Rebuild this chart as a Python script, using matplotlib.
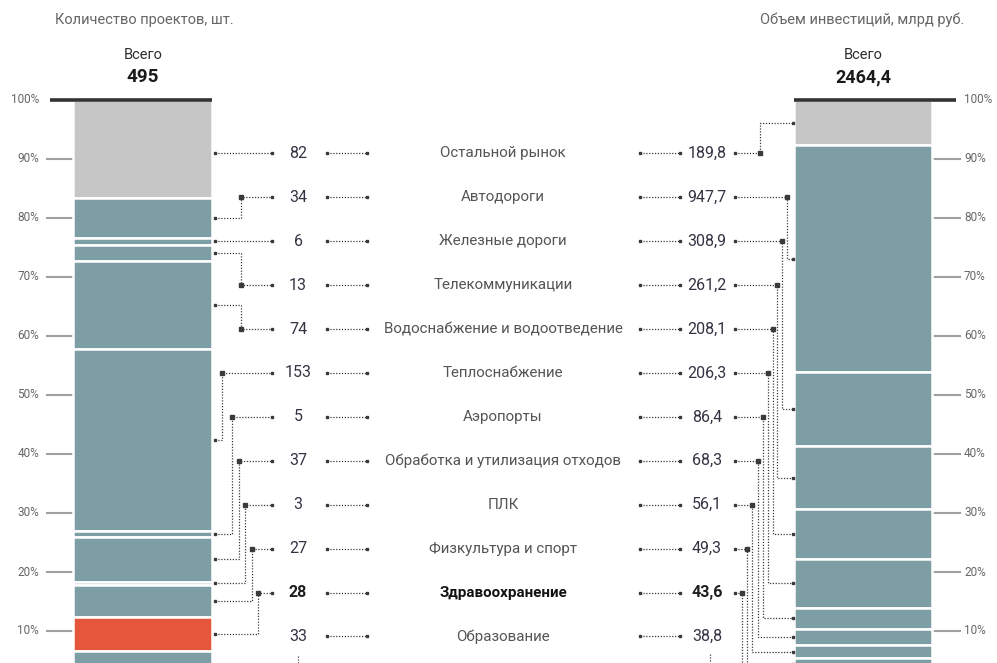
import matplotlib
matplotlib.use("Agg")
import matplotlib.pyplot as plt
import numpy as np

plt.rcParams['font.family'] = ['Roboto', 'DejaVu Sans']

# ---------------- data ----------------
categories = ["Остальной рынок", "Автодороги", "Железные дороги", "Телекоммуникации",
              "Водоснабжение и водоотведение", "Теплоснабжение", "Аэропорты",
              "Обработка и утилизация отходов", "ПЛК", "Физкультура и спорт",
              "Здравоохранение", "Образование"]
projects = [82, 34, 6, 13, 74, 153, 5, 37, 3, 27, 28, 33]
investments = [189.8, 947.7, 308.9, 261.2, 208.1, 206.3, 86.4, 68.3, 56.1, 49.3, 43.6, 38.8]
projects_label = ["82", "34", "6", "13", "74", "153", "5", "37", "3", "27", "28", "33"]
investments_label = ["189,8", "947,7", "308,9", "261,2", "208,1", "206,3", "86,4",
                     "68,3", "56,1", "49,3", "43,6", "38,8"]
total_projects = "495"
total_invest = "2464,4"
highlight = "Здравоохранение"
other = "Остальной рынок"
tick_values = [100, 90, 80, 70, 60, 50, 40, 30, 20, 10]
tick_labels = ["100%", "90%", "80%", "70%", "60%", "50%", "40%", "30%", "20%", "10%"]

# ---------------- layout ----------------
W, H = 997, 663
fig = plt.figure(figsize=(W / 100, H / 100), dpi=100)
ax = fig.add_axes([0, 0, 1, 1])
PX_PER_PCT = 5.9
TOP_PX = 100
ax.set_xlim(0, W)
ax.set_ylim(100 - (H - TOP_PX) / PX_PER_PCT, 100 + TOP_PX / PX_PER_PCT)
ax.axis("off")


def px2pct(py):
    return 100 - (py - TOP_PX) / PX_PER_PCT


TEAL = "#7e9ea6"
GREY = "#c6c6c6"
RED = "#e5573b"
DARK = "#2f2f2f"
LINE = "#3a3a3a"

L_CENTER, L_WIDTH = 142.5, 139
R_CENTER, R_WIDTH = 863, 138


def stacked(values, center, width):
    vals = np.array(values, dtype=float)
    pct = vals / vals.sum() * 100
    tops = 100 - np.concatenate([[0], np.cumsum(pct)[:-1]])
    bottoms = tops - pct
    colors = []
    for c in categories:
        if c == other:
            colors.append(GREY)
        elif c == highlight:
            colors.append(RED)
        else:
            colors.append(TEAL)
    ax.bar(center, pct, bottom=bottoms, width=width, color=colors,
           edgecolor="white", linewidth=1.8, zorder=2)
    return bottoms + pct / 2


l_mid = stacked(projects, L_CENTER, L_WIDTH)
r_mid = stacked(investments, R_CENTER, R_WIDTH)

# top lines
ax.plot([50, L_CENTER + L_WIDTH / 2], [100, 100], color="#333333", lw=2.6, zorder=3,
        solid_capstyle="butt")
ax.plot([R_CENTER - R_WIDTH / 2, 956], [100, 100], color="#333333", lw=2.6, zorder=3,
        solid_capstyle="butt")

# ticks
for v, lab in zip(tick_values, tick_labels):
    if v != 100:
        ax.plot([47, L_CENTER - L_WIDTH / 2], [v, v], color="#a0a0a0", lw=1.5, zorder=1)
        ax.plot([R_CENTER + R_WIDTH / 2 + 2, 960], [v, v], color="#a0a0a0", lw=1.5, zorder=1)
    ax.text(39, v, lab, ha="right", va="center", fontsize=8.5, color="#666666")
    ax.text(964, v, lab, ha="left", va="center", fontsize=8.5, color="#666666")

# headers
ax.text(144, px2pct(20), "Количество проектов, шт.", ha="center", va="center",
        fontsize=10.5, color="#666666")
ax.text(862, px2pct(20), "Объем инвестиций, млрд руб.", ha="center", va="center",
        fontsize=10.5, color="#666666")
ax.text(143, px2pct(55), "Всего", ha="center", va="center", fontsize=10.5, color=DARK)
ax.text(143, px2pct(77), total_projects, ha="center", va="center", fontsize=13.5,
        color="#1a1a1a", fontweight="bold")
ax.text(863, px2pct(55), "Всего", ha="center", va="center", fontsize=10.5, color=DARK)
ax.text(863, px2pct(77), total_invest, ha="center", va="center", fontsize=13,
        color="#1a1a1a", fontweight="bold")

DOT = dict(color=LINE, lw=0.9, linestyle=(0, (1, 1.3)), zorder=4)
MS = 1.8


def dline(xs, ys):
    ax.plot(xs, ys, **DOT)
    ax.plot([xs[0], xs[-1]], [ys[0], ys[-1]], ls="none", marker="s", ms=MS,
            color=LINE, zorder=5)


ROW0, ROW_STEP = 153.5, 43.9
rows_pct = [px2pct(ROW0 + i * ROW_STEP) for i in range(len(categories))]

L_EDGE = L_CENTER + L_WIDTH / 2 + 2.5
R_EDGE = R_CENTER - R_WIDTH / 2 - 1.5
L_NUM_X, CAT_X, R_NUM_X = 298, 503, 707

# elbow layout (x positions of vertical parts)
left_elbow = [None, 241, None, 241, 241, 222, 232, 239, 245, 252, 258, None]
right_elbow = [760, 787, 782, 777, 773, 768, 763, 758, 752, 747, 742, None]

for i, cat in enumerate(categories):
    yr = rows_pct[i]
    bold = cat == highlight
    fw = "bold" if bold else "normal"
    ax.text(L_NUM_X, yr, projects_label[i], ha="center", va="center", fontsize=11.5,
            color="#1e1e1e" if bold else "#333344", fontweight=fw)
    ax.text(R_NUM_X, yr, investments_label[i], ha="center", va="center", fontsize=11.5,
            color="#1e1e1e" if bold else "#333344", fontweight=fw)
    ax.text(CAT_X, yr, cat, ha="center", va="center", fontsize=10.9,
            color="#111111" if bold else "#555555", fontweight=fw)
    # label-to-label dotted links
    dline([327, 367], [yr, yr])
    dline([640, 680], [yr, yr])

    # left connectors
    if i < len(categories) - 1:
        if left_elbow[i] is None:
            dline([L_EDGE, 272], [yr, yr])
        else:
            ex = left_elbow[i]
            ax.plot([L_EDGE, ex, ex, 272], [l_mid[i], l_mid[i], yr, yr], **DOT)
            ax.plot([L_EDGE, 272], [l_mid[i], yr], ls="none", marker="s", ms=MS,
                    color=LINE, zorder=5)
            ax.plot([ex], [yr], ls="none", marker="s", ms=MS + 0.4, color=LINE, zorder=5)
    # right connectors
    if right_elbow[i] is not None:
        ex = right_elbow[i]
        ax.plot([735, ex, ex, R_EDGE], [yr, yr, r_mid[i], r_mid[i]], **DOT)
        ax.plot([735, R_EDGE], [yr, r_mid[i]], ls="none", marker="s", ms=MS,
                color=LINE, zorder=5)
        ax.plot([ex], [yr], ls="none", marker="s", ms=MS + 0.4, color=LINE, zorder=5)

# the last row continues below the visible area
ax.plot([L_NUM_X, L_NUM_X], [px2pct(656), px2pct(670)], **DOT)
ax.plot([R_NUM_X + 3, R_NUM_X + 3], [px2pct(654), px2pct(670)], **DOT)

fig.savefig("out.png", dpi=100)
